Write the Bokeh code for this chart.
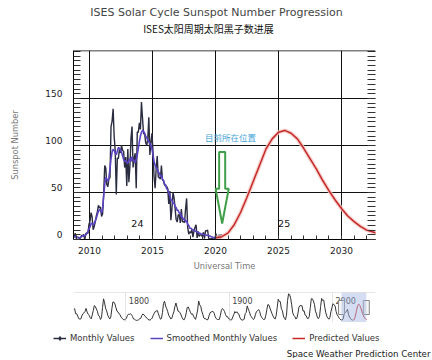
from bokeh.plotting import figure
from bokeh.layouts import column
from bokeh.models import (Range1d, Label, Span, LinearAxis, SingleIntervalTicker, FixedTicker,
                          PolyAnnotation, BoxAnnotation, Grid, Legend, LegendItem)
from bokeh.core.properties import value
from bokeh.embed import file_html
from bokeh.resources import INLINE

# ---------------- texts ----------------
title_text = "ISES Solar Cycle Sunspot Number Progression"
subtitle_text = "ISES太阳周期太阳黑子数进展"
x_label = "Universal Time"
y_label = "Sunspot Number"
footer_text = "Space Weather Prediction Center"
series_names = ["Monthly Values", "Smoothed Monthly Values", "Predicted Values"]
y_tick_values = [0, 50, 100, 150]
cycle_labels = ["24", "25"]
cycle_label_x = [2013.8, 2025.45]
cycle_label_y = [17.0, 16.6]
marker_text = "目前所在位置"
marker_text_pos = (2021.2, 109.0)
# hollow arrow marking the present (year, top, head base, tip)
arrow_year = 2020.53
arrow_top = 93.0
arrow_head_base = 54.0
arrow_tip = 17.0

# ---------------- data ----------------
monthly_start = (2008, 9)
monthly_values = [
    1.2, 4.2, 6.6, 1.0,
    2.5, 2.1, 1.0, 1.8, 4.4, 4.0, 5.3, 0.0, 6.3, 7.0, 6.4, 16.0,
    19.6, 28.5, 24.0, 10.4, 13.9, 18.8, 25.2, 29.6, 36.4, 33.6, 34.4, 24.5,
    27.3, 48.3, 78.6, 76.1, 58.2, 56.1, 64.5, 65.8, 120.1, 125.7, 139.1, 109.3,
    94.4, 47.8, 86.6, 85.9, 96.5, 92.0, 100.1, 94.8, 93.7, 76.5, 87.6, 56.8,
    96.1, 60.9, 78.3, 107.3, 120.2, 76.7, 86.2, 91.8, 54.5, 114.4, 113.9, 124.2,
    117.0, 146.1, 128.7, 112.5, 112.5, 102.9, 100.2, 106.9, 130.0, 90.0, 103.6, 112.9,
    93.0, 66.7, 54.5, 75.3, 88.8, 66.5, 65.8, 64.4, 78.6, 63.6, 62.2, 58.0,
    57.0, 56.4, 54.1, 37.9, 51.5, 20.5, 32.4, 50.2, 44.6, 33.4, 21.4, 18.5,
    26.1, 26.4, 17.7, 32.3, 18.9, 19.2, 17.8, 32.6, 43.7, 13.2, 5.7, 8.2,
    6.8, 10.7, 2.5, 8.9, 13.1, 15.6, 1.6, 8.7, 3.3, 4.9, 4.9, 3.1,
    7.7, 0.8, 9.4, 9.1, 9.9, 1.2, 0.9, 0.5, 1.1, 0.4, 0.5, 1.5,
    6.2, 0.2, 1.5, 5.2, 0.2, 5.8,
]
smoothed_start = (2008, 9)
smoothed_values = [
    2.0, 2.6, 3.4, 2.8,
    2.2, 2.0, 1.9, 2.4, 3.1, 3.9, 3.6, 3.9, 5.2, 6.3, 8.5, 11.0,
    13.4, 17.2, 16.8, 15.8, 16.9, 19.8, 22.7, 26.6, 30.1, 31.8, 30.6, 28.4,
    33.0, 46.0, 58.0, 66.0, 64.0, 62.0, 66.0, 75.0, 86.0, 93.0, 96.0, 95.0,
    92.0, 90.0, 94.0, 98.0, 97.0, 95.0, 93.0, 89.0, 85.0, 83.0, 84.0, 82.0,
    81.0, 84.0, 86.0, 83.0, 88.0, 85.0, 83.0, 82.0, 85.0, 90.0, 97.0, 104.0,
    110.0, 114.0, 116.0, 115.0, 113.0, 110.0, 108.0, 106.0, 104.0, 102.0, 100.0, 96.0,
    90.0, 83.0, 79.0, 76.0, 75.0, 71.0, 71.0, 67.0, 68.0, 64.0, 63.0, 59.0,
    58.0, 54.0, 53.0, 49.0, 47.0, 42.0, 42.0, 38.0, 39.0, 35.0, 34.0, 31.0,
    31.0, 28.0, 28.0, 24.0, 24.0, 21.0, 22.0, 19.0, 20.0, 16.0, 15.0, 12.0,
    12.0, 11.0, 10.5, 9.5, 9.0, 8.5, 8.0, 7.5, 7.0, 6.5, 6.0, 5.5,
    5.3, 5.0, 4.8, 4.6, 4.5, 4.2, 3.8, 3.3, 2.9, 2.5, 2.2, 2.0,
    1.9, 2.1, 2.4,
]
pred_years = [2020.0, 2020.5, 2021.0, 2021.5, 2022.0, 2022.5, 2023.0, 2023.5, 2024.0,
              2024.5, 2025.0, 2025.5, 2026.0, 2026.5, 2027.0, 2027.5, 2028.0, 2028.5,
              2029.0, 2029.5, 2030.0, 2030.5, 2031.0, 2031.5, 2032.0, 2032.5, 2033.0]
pred_values = [1.8, 3.0, 7.0, 16.0, 29.0, 45.0, 62.0, 79.0, 96.0,
               107.0, 114.0, 116.0, 113.0, 107.0, 97.0, 86.0, 75.0, 63.0,
               52.0, 42.0, 33.0, 25.0, 19.0, 14.0, 10.0, 8.0, 6.0]

nav_start_year = 1749
nav_yearly = [
    80.9, 83.4, 47.7, 47.8, 30.7, 12.2, 9.6, 10.2, 32.4, 47.6, 54.0, 62.9, 85.9, 61.2, 45.1,
    36.4, 20.9, 11.4, 37.8, 69.8, 106.1, 100.8, 81.6, 66.5, 34.8, 30.6, 7.0, 19.8, 92.5, 154.4,
    125.9, 84.8, 68.1, 38.5, 22.8, 10.2, 24.1, 82.9, 132.0, 130.9, 118.1, 89.9, 66.6, 60.0, 46.9,
    41.0, 21.3, 16.0, 6.4, 4.1, 6.8, 14.5, 34.0, 45.0, 43.1, 47.5, 42.2, 28.1, 10.1, 8.1,
    2.5, 0.0, 1.4, 5.0, 12.2, 13.9, 35.4, 45.8, 41.1, 30.1, 23.9, 15.6, 6.6, 4.0, 1.8,
    8.5, 16.6, 36.3, 49.6, 64.2, 67.0, 70.9, 47.8, 27.5, 8.5, 13.2, 56.9, 121.5, 138.3, 103.2,
    85.7, 64.6, 36.7, 24.2, 10.7, 15.0, 40.1, 61.5, 98.5, 124.7, 96.3, 66.6, 64.5, 54.1, 39.0,
    20.6, 6.7, 4.3, 22.7, 54.8, 93.8, 95.8, 77.2, 59.1, 44.0, 47.0, 30.5, 16.3, 7.3, 37.6,
    74.0, 139.0, 111.2, 101.6, 66.2, 44.7, 17.0, 11.3, 12.4, 3.4, 6.0, 32.3, 54.3, 59.7, 63.7,
    63.5, 52.2, 25.4, 13.1, 6.8, 6.3, 7.1, 35.6, 73.0, 85.1, 78.0, 64.0, 41.8, 26.2, 26.7,
    12.1, 9.5, 2.7, 5.0, 24.4, 42.0, 63.5, 53.8, 62.0, 48.5, 43.9, 18.6, 5.7, 3.6, 1.4,
    9.6, 47.4, 57.1, 103.9, 80.6, 63.6, 37.6, 26.1, 14.2, 5.8, 16.7, 44.3, 63.9, 69.0, 77.8,
    64.9, 35.7, 21.2, 11.1, 5.7, 8.7, 36.1, 79.7, 114.4, 109.6, 88.8, 67.8, 47.5, 30.6, 16.3,
    9.6, 33.2, 92.6, 151.6, 136.3, 134.7, 83.9, 69.4, 31.5, 13.9, 4.4, 38.0, 141.7, 190.2, 184.8,
    159.0, 112.3, 53.9, 37.6, 27.9, 10.2, 15.1, 47.0, 93.8, 105.9, 105.5, 104.5, 66.6, 68.9, 38.0,
    34.5, 15.5, 12.6, 27.5, 92.5, 155.4, 154.6, 140.4, 115.9, 66.6, 45.9, 17.9, 13.4, 29.4, 100.2,
    157.6, 142.6, 145.7, 94.3, 54.6, 29.9, 17.5, 8.6, 21.5, 64.3, 93.3, 119.6, 111.0, 104.0, 63.7,
    40.4, 29.8, 15.2, 7.5, 2.9, 3.1, 16.5, 55.7, 57.6, 64.7, 79.3, 42.0, 24.0, 13.0, 4.2, 2.2,
]
nav_ticks = [1800, 1900, 2000]

x_view = (2008.73, 2032.70)
y_view = (0, 201)
nav_x = (1749.4, 2041.6)
nav_y = (-15, 200)


def month_years(start, n):
    y0, m0 = start
    return [y0 + (m0 - 1 + i + 0.5) / 12.0 for i in range(n)]


monthly_years = month_years(monthly_start, len(monthly_values))
smoothed_years = month_years(smoothed_start, len(smoothed_values))
nav_years = [nav_start_year + i + 0.5 for i in range(len(nav_yearly))]

# ---------------- style / layout ----------------
FONT = "DejaVu Sans"
CJK = "Noto Sans CJK SC"
monthly_color = "#2a2c40"
smooth_color = "#5b43c4"
pred_color = "#c42a25"
W = 432
BL, BR = 73, 57
FRAME_H = 189
label_shift = 5 * (y_view[1] - y_view[0]) / FRAME_H   # tick labels sit 5 px above their lines


def free_frame(fig):
    try:
        fig.frame_align = False
    except Exception:
        pass


# ---------------- title strip ----------------
TH = 42
tf = figure(width=W, height=TH, x_range=Range1d(0, W), y_range=Range1d(0, TH),
            x_axis_type=None, y_axis_type=None, min_border=0, outline_line_color=None,
            output_backend="svg", toolbar_location=None)
free_frame(tf)
tf.add_layout(Label(x=216, y=TH - 12, text=title_text, text_align="center", text_baseline="middle",
                    text_font=FONT, text_font_size="11px", text_color="#444444"))
tf.add_layout(Label(x=208, y=TH - 27.5, text=subtitle_text, text_align="center", text_baseline="middle",
                    text_font=CJK, text_font_size="10px", text_color="#111111"))

# ---------------- main chart ----------------
p = figure(width=W, height=240, x_range=Range1d(*x_view), y_range=Range1d(*y_view),
           x_axis_type=None, y_axis_type=None, output_backend="svg", toolbar_location=None,
           min_border_left=BL, min_border_right=BR, min_border_top=8, min_border_bottom=43,
           outline_line_color=None)
p.extra_y_ranges = {"lab": Range1d(y_view[0] - label_shift, y_view[1] - label_shift)}

xt = SingleIntervalTicker(interval=5, num_minor_ticks=5)
yminor = list(range(int(y_view[0]), int(y_view[1]) + 1, 5))

xaxis = LinearAxis(ticker=xt, axis_label=x_label)
xaxis.axis_line_color = "black"
xaxis.major_tick_in = 0
xaxis.major_tick_out = 0
xaxis.minor_tick_in = 4
xaxis.minor_tick_out = 0
xaxis.minor_tick_line_color = "#333333"
xaxis.major_label_standoff = 7
xaxis.major_label_text_font = FONT
xaxis.major_label_text_font_size = "9px"
xaxis.major_label_text_color = "#222222"
xaxis.axis_label_standoff = 4
xaxis.axis_label_text_font = FONT
xaxis.axis_label_text_font_size = "8.3px"
xaxis.axis_label_text_font_style = "normal"
xaxis.axis_label_text_color = "#777777"
p.add_layout(xaxis, "below")

# left axis on a label range shifted 5 px down, so labels sit just above their grid lines;
# its minor ticks are shifted back so they fall on the main scale's 5-unit steps
yaxis = LinearAxis(y_range_name="lab", axis_label=y_label,
                   ticker=FixedTicker(ticks=y_tick_values,
                                      minor_ticks=[m - label_shift for m in yminor]))
yaxis.axis_line_color = "black"
yaxis.major_tick_in = 0
yaxis.major_tick_out = 0
yaxis.minor_tick_in = 7
yaxis.minor_tick_out = 0
yaxis.minor_tick_line_color = "#333333"
yaxis.major_label_standoff = 11
yaxis.major_label_text_font = FONT
yaxis.major_label_text_font_size = "9px"
yaxis.major_label_text_color = "#222222"
yaxis.axis_label_standoff = 22
yaxis.axis_label_text_font = FONT
yaxis.axis_label_text_font_size = "8.3px"
yaxis.axis_label_text_font_style = "normal"
yaxis.axis_label_text_color = "#777777"
p.add_layout(yaxis, "left")

raxis = LinearAxis(ticker=FixedTicker(ticks=[], minor_ticks=yminor))
raxis.axis_line_color = None
raxis.minor_tick_in = 8
raxis.minor_tick_out = 0
raxis.minor_tick_line_color = "#333333"
p.add_layout(raxis, "right")

p.add_layout(Grid(dimension=0, ticker=xt, grid_line_color="#111111", grid_line_width=1))
p.add_layout(Grid(dimension=1, ticker=FixedTicker(ticks=y_tick_values),
                  grid_line_color="#111111", grid_line_width=1))
p.add_layout(Span(location=y_view[1], dimension="width", line_color="black", line_width=1.5))

p.line(monthly_years, monthly_values, line_color=monthly_color, line_width=1.4)
p.line(smoothed_years, smoothed_values, line_color=smooth_color, line_width=1.6)
p.line(pred_years, pred_values, line_color="#f6c4c4", line_width=4, line_alpha=0.8)
p.line(pred_years, pred_values, line_color=pred_color, line_width=1.5)

for t, cx, cy in zip(cycle_labels, cycle_label_x, cycle_label_y):
    p.add_layout(Label(x=cx, y=cy, text=t, text_align="center", text_baseline="middle",
                       text_font=FONT, text_font_size="9.5px", text_color="#111111"))

p.add_layout(Label(x=marker_text_pos[0], y=marker_text_pos[1], text=marker_text,
                   text_align="center", text_baseline="middle", text_font=CJK,
                   text_font_size="8.5px", text_color="#3fa3d6"))

sw, hw = 0.24, 0.52  # half widths in years
ax = arrow_year
p.add_layout(PolyAnnotation(
    xs=[ax - sw, ax + sw, ax + sw, ax + hw, ax, ax - hw, ax - sw],
    ys=[arrow_top, arrow_top, arrow_head_base, arrow_head_base, arrow_tip, arrow_head_base, arrow_head_base],
    fill_alpha=0, line_color="#3f9f49", line_alpha=1.0, line_width=2))

# ---------------- navigator ----------------
nav = figure(width=W, height=40, x_range=Range1d(*nav_x), y_range=Range1d(*nav_y),
             x_axis_type=None, y_axis_type=None, output_backend="svg", toolbar_location=None,
             min_border_left=BL, min_border_right=BR, min_border_top=10, min_border_bottom=0,
             outline_line_color=None)
nav.add_layout(Grid(dimension=0, ticker=FixedTicker(ticks=nav_ticks), grid_line_color="#e4e4e4"))
nav.add_layout(Span(location=nav_y[1], dimension="width", line_color="#cfcfcf", line_width=1))
nav.add_layout(BoxAnnotation(left=x_view[0], right=x_view[1], fill_color="#9fb4e3",
                             fill_alpha=0.45, line_color=None))
nav.line(nav_years, nav_yearly, line_color="#333333", line_width=1)
nav.line(pred_years, pred_values, line_color=pred_color, line_width=1)
nav.text(x=nav_ticks, y=[nav_y[1]] * len(nav_ticks), text=[str(t) for t in nav_ticks],
         x_offset=3, y_offset=4, text_align="left", text_baseline="top",
         text_font=value(FONT), text_font_size="8px", text_color="#444444")
nav.rect(x=list(x_view), y=[(nav_y[0] + nav_y[1]) / 2] * 2, width=6, height=14,
         width_units="screen", height_units="screen", fill_color="#f4f4f4", line_color="#888888")

# ---------------- legend strip ----------------
LH = 36
nan = float("nan")
lg = figure(width=W, height=LH, x_range=Range1d(0, W), y_range=Range1d(0, LH),
            x_axis_type=None, y_axis_type=None, min_border=0, outline_line_color=None,
            output_backend="svg", toolbar_location=None)
free_frame(lg)
r1 = lg.line(x=[nan], y=[nan], line_color=monthly_color, line_width=1.5)
r1b = lg.scatter(x=[nan], y=[nan], marker="diamond", size=7, color=monthly_color)
r2 = lg.line(x=[nan], y=[nan], line_color=smooth_color, line_width=1.5)
r3 = lg.line(x=[nan], y=[nan], line_color=pred_color, line_width=1.5)
legend = Legend(items=[LegendItem(label=series_names[0], renderers=[r1, r1b]),
                       LegendItem(label=series_names[1], renderers=[r2]),
                       LegendItem(label=series_names[2], renderers=[r3])],
                orientation="horizontal", location=(53, 15), padding=0, margin=0,
                spacing=15, glyph_width=13, glyph_height=10, label_height=10,
                label_standoff=4, border_line_color=None, background_fill_alpha=0,
                label_text_font=FONT, label_text_font_size="8.5px", label_text_color="#333333")
lg.add_layout(legend)
lg.add_layout(Label(x=430, y=LH - 31, text=footer_text, text_align="right", text_baseline="middle",
                    text_font=FONT, text_font_size="8.7px", text_color="#222222"))

layout = column(tf, p, nav, lg)
open("out.html", "w").write(file_html(layout, INLINE))
